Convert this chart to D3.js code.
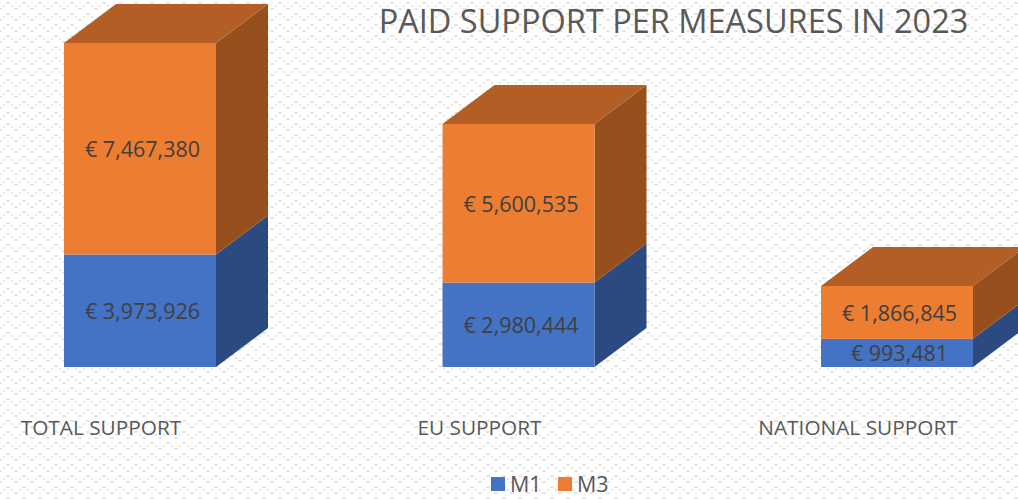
<!DOCTYPE html>
<html>
<head>
<meta charset="utf-8">
<script src="https://cdnjs.cloudflare.com/ajax/libs/d3/7.8.5/d3.min.js"></script>
<style>
html, body { margin: 0; padding: 0; background: #fff; overflow: hidden; }
text { font-family: "Open Sans", sans-serif; fill: #595959; }
</style>
</head>
<body>
<div id="plot"></div>
<script>
const categories = ["TOTAL SUPPORT", "EU SUPPORT", "NATIONAL SUPPORT"];
const seriesNames = ["M1", "M3"];
const m1Values = [3973926, 2980444, 993481];
const m3Values = [7467380, 5600535, 1866845];

const width = 1018, height = 499;
const barW = 152, depthX = 52, depthY = 39;
const colors = { M1: "#4472c4", M3: "#ed7d31" };
const topColors = { M1: "#3a5fa3", M3: "#b25e24" };
const sideColors = { M1: "#2b4a80", M3: "#97501d" };

const svg = d3.select("#plot").append("svg")
    .attr("width", width)
    .attr("height", height)
    .style("display", "block");

// blocky zigzag wallpaper behind the chart
const pattern = svg.append("defs").append("pattern")
    .attr("id", "zigzag")
    .attr("patternUnits", "userSpaceOnUse")
    .attr("width", 16)
    .attr("height", 11);
[[0, 8, 2], [3, 5, 2], [6, 2, 4], [11, 5, 2], [14, 8, 2]].forEach(([bx, by, bw]) => {
    pattern.append("rect")
        .attr("x", bx)
        .attr("y", by)
        .attr("width", bw)
        .attr("height", 2)
        .attr("fill", "#e6e6e6");
});
svg.append("rect")
    .attr("width", width)
    .attr("height", height)
    .attr("fill", "url(#zigzag)");

// centre of each front face
const x = d3.scalePoint()
    .domain(categories)
    .range([140, 897]);
const xFront = d => x(d) - barW / 2;

const y = d3.scaleLinear()
    .domain([0, d3.max(categories, (c, i) => m1Values[i] + m3Values[i])])
    .range([367, 43]);

const stacked = categories.map((c, i) => ({ name: c, M1: m1Values[i], M3: m3Values[i] }));
const stack = d3.stack().keys(seriesNames)(stacked);

const bars = svg.selectAll("g.series")
    .data(stack)
    .enter().append("g")
    .attr("class", "series");

// side face
bars.selectAll("path.side")
    .data(s => s.map(d => ({ key: s.key, d })))
    .enter().append("path")
    .attr("class", "side")
    .attr("fill", p => sideColors[p.key])
    .attr("d", p => {
        const x1 = xFront(p.d.data.name) + barW;
        const a = y(p.d[1]), b = y(p.d[0]);
        return `M${x1} ${a}L${x1 + depthX} ${a - depthY}L${x1 + depthX} ${b - depthY}L${x1} ${b}Z`;
    });

// top face, only the upper series shows it
bars.filter(s => s.key === "M3").selectAll("path.top")
    .data(s => s.map(d => ({ key: s.key, d })))
    .enter().append("path")
    .attr("class", "top")
    .attr("fill", p => topColors[p.key])
    .attr("d", p => {
        const x0 = xFront(p.d.data.name);
        const a = y(p.d[1]);
        return `M${x0} ${a}L${x0 + depthX} ${a - depthY}L${x0 + barW + depthX} ${a - depthY}L${x0 + barW} ${a}Z`;
    });

// front face
bars.selectAll("rect")
    .data(s => s.map(d => ({ key: s.key, d })))
    .enter().append("rect")
    .attr("fill", p => colors[p.key])
    .attr("x", p => xFront(p.d.data.name))
    .attr("y", p => y(p.d[1]))
    .attr("width", barW)
    .attr("height", p => y(p.d[0]) - y(p.d[1]));

// value labels
const fmt = d3.format(",");
bars.selectAll("text")
    .data(s => s.map(d => ({ key: s.key, d })))
    .enter().append("text")
    .attr("x", p => x(p.d.data.name) + 2.5)
    .attr("y", p => (y(p.d[0]) + y(p.d[1])) / 2 + 1)
    .attr("dy", "0.35em")
    .attr("text-anchor", "middle")
    .style("font-size", "21.5px")
    .style("fill", "#404040")
    .text(p => "€ " + fmt(p.d[1] - p.d[0]));

// category labels
svg.selectAll("text.cat")
    .data(categories)
    .enter().append("text")
    .attr("class", "cat")
    .attr("x", d => x(d) - 39)
    .attr("y", 435)
    .attr("text-anchor", "middle")
    .style("font-size", "20.8px")
    .text(d => d);

// title
svg.append("text")
    .attr("x", 673.5)
    .attr("y", 33)
    .attr("text-anchor", "middle")
    .style("font-size", "32.5px")
    .text("PAID SUPPORT PER MEASURES IN 2023");

// legend
const legend = svg.selectAll("g.legend")
    .data(seriesNames)
    .enter().append("g")
    .attr("class", "legend")
    .attr("transform", (d, i) => `translate(${491 + i * 67},477)`);
legend.append("rect")
    .attr("width", 14)
    .attr("height", 14)
    .attr("fill", d => colors[d]);
legend.append("text")
    .attr("x", 19)
    .attr("y", 15)
    .style("font-size", "21.5px")
    .text(d => d);
</script>
</body>
</html>
